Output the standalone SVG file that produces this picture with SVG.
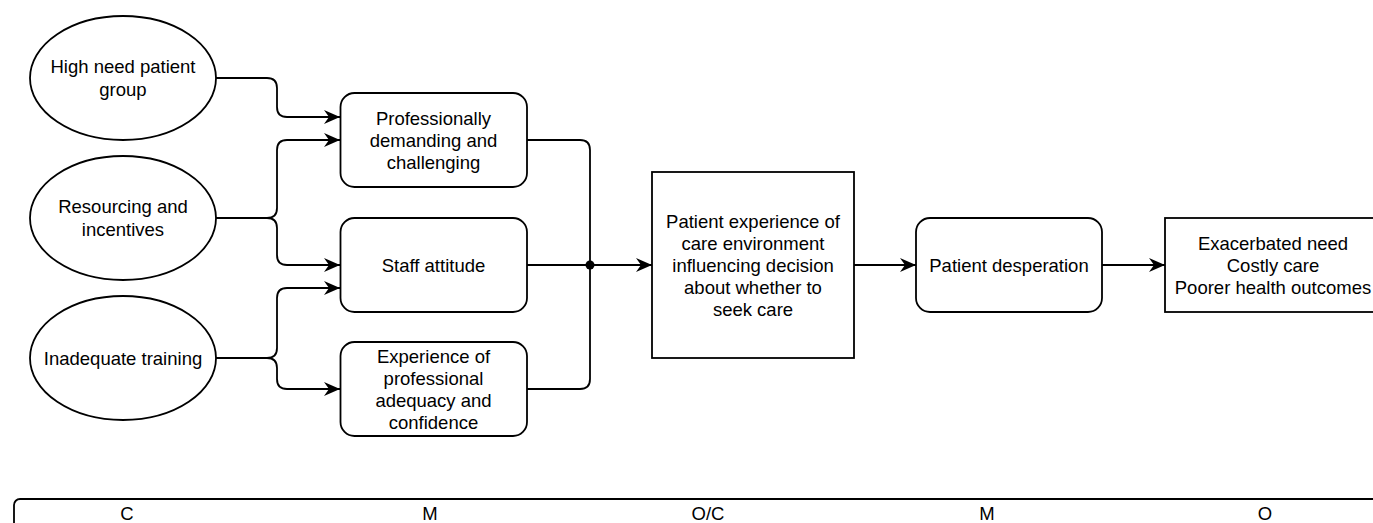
<svg xmlns="http://www.w3.org/2000/svg" width="1373" height="523" viewBox="0 0 1373 523">
<style>
.s{fill:#fff;stroke:#000;stroke-width:1.8}
.c{fill:none;stroke:#000;stroke-width:1.8}
.t{font-family:"Liberation Sans",Arial,sans-serif;font-size:18.5px;fill:#000;text-anchor:middle}
</style>
<defs>
<marker id="arr" markerUnits="userSpaceOnUse" markerWidth="17" markerHeight="15" refX="16" refY="7.5" orient="auto">
<path d="M0,0.5 L16,7.5 L0,14.5 L5,7.5 Z" fill="#000"/>
</marker>
</defs>
<rect width="1373" height="523" fill="#fff"/>
<g id="connectors">
<path class="c" d="M216,78 H267 Q277,78 277,88 V107 Q277,117 287,117 H340" marker-end="url(#arr)"/>
<path class="c" d="M216,218 H267 Q277,218 277,208 V150 Q277,140 287,140 H340" marker-end="url(#arr)"/>
<path class="c" d="M216,218 H267 Q277,218 277,228 V255 Q277,265 287,265 H340" marker-end="url(#arr)"/>
<path class="c" d="M216,358 H267 Q277,358 277,348 V298 Q277,288 287,288 H340" marker-end="url(#arr)"/>
<path class="c" d="M216,358 H267 Q277,358 277,368 V379 Q277,389 287,389 H340" marker-end="url(#arr)"/>
<path class="c" d="M527,140 H580 Q590,140 590,150 V265"/>
<path class="c" d="M527,389 H580 Q590,389 590,379 V265"/>
<path class="c" d="M527,265 H652" marker-end="url(#arr)"/>
<circle cx="590" cy="265" r="4.5" fill="#000"/>
<path class="c" d="M854,265 H916" marker-end="url(#arr)"/>
<path class="c" d="M1102,265 H1165" marker-end="url(#arr)"/>
</g>
<g id="n-high-need">
<ellipse class="s" cx="123" cy="78" rx="93" ry="62"/>
<text class="t" x="123" y="73">High need patient</text>
<text class="t" x="123" y="96">group</text>
</g>
<g id="n-resourcing">
<ellipse class="s" cx="123" cy="218" rx="93" ry="62"/>
<text class="t" x="123" y="213">Resourcing and</text>
<text class="t" x="123" y="236">incentives</text>
</g>
<g id="n-training">
<ellipse class="s" cx="123" cy="358" rx="93" ry="62"/>
<text class="t" x="123" y="364.5">Inadequate training</text>
</g>
<g id="n-demanding">
<rect class="s" x="340.5" y="93" width="186.5" height="94" rx="14"/>
<text class="t" x="433.5" y="124.5">Professionally</text>
<text class="t" x="433.5" y="146.5">demanding and</text>
<text class="t" x="433.5" y="168.5">challenging</text>
</g>
<g id="n-staff">
<rect class="s" x="340.5" y="218" width="186.5" height="94" rx="14"/>
<text class="t" x="433.5" y="271.5">Staff attitude</text>
</g>
<g id="n-experience">
<rect class="s" x="340.5" y="342" width="186.5" height="94" rx="14"/>
<text class="t" x="433.5" y="362.5">Experience of</text>
<text class="t" x="433.5" y="384.5">professional</text>
<text class="t" x="433.5" y="406.5">adequacy and</text>
<text class="t" x="433.5" y="428.5">confidence</text>
</g>
<g id="n-patient-experience">
<rect class="s" x="652" y="172" width="202" height="186"/>
<text class="t" x="753" y="227.5">Patient experience of</text>
<text class="t" x="753" y="249.5">care environment</text>
<text class="t" x="753" y="271.5">influencing decision</text>
<text class="t" x="753" y="293.5">about whether to</text>
<text class="t" x="753" y="315.5">seek care</text>
</g>
<g id="n-desperation">
<rect class="s" x="916" y="218" width="186" height="94" rx="14"/>
<text class="t" x="1009" y="271.5">Patient desperation</text>
</g>
<g id="n-outcomes">
<rect class="s" x="1165" y="218" width="216" height="94"/>
<text class="t" x="1273" y="249.5">Exacerbated need</text>
<text class="t" x="1273" y="271.5">Costly care</text>
<text class="t" x="1273" y="293.5">Poorer health outcomes</text>
</g>
<g id="n-legend">
<rect class="s" x="14" y="499" width="1400" height="60" rx="6"/>
<text class="t" x="127" y="519.5">C</text>
<text class="t" x="430" y="519.5">M</text>
<text class="t" x="708" y="519.5">O/C</text>
<text class="t" x="987" y="519.5">M</text>
<text class="t" x="1265" y="519.5">O</text>
</g>
</svg>
